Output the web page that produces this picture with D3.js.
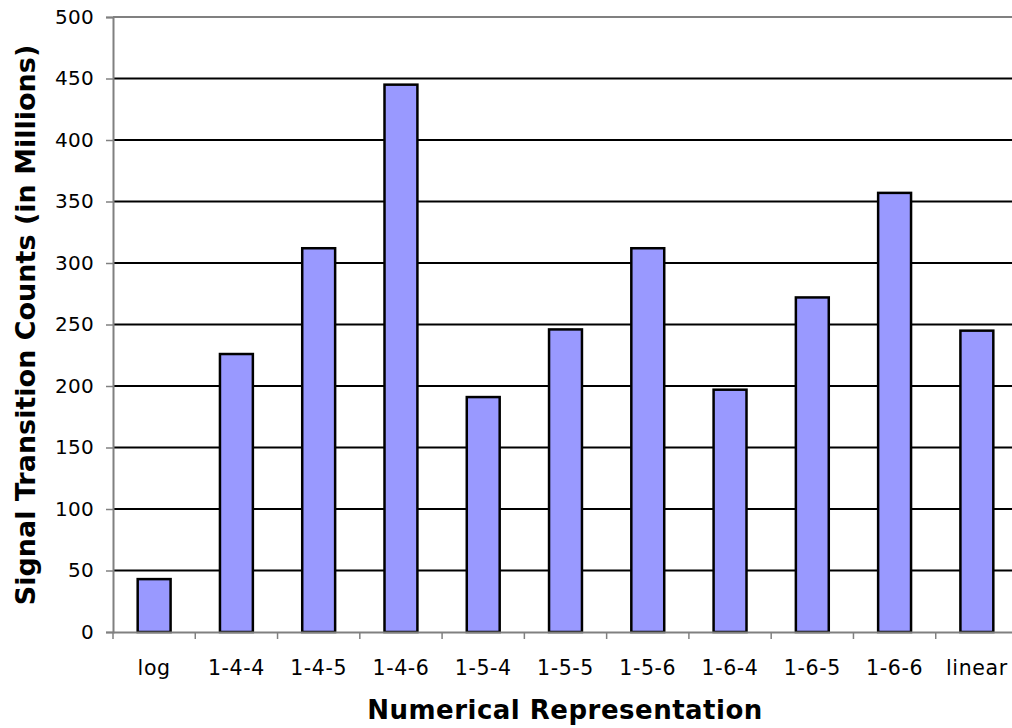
<!DOCTYPE html>
<html>
<head>
<meta charset="utf-8">
<script src="https://cdn.jsdelivr.net/npm/d3@7"></script>
<style>
  html, body { margin: 0; padding: 0; background: #fff; }
  svg { display: block; }
  text { font-family: "DejaVu Sans", Verdana, sans-serif; fill: #000; }
</style>
</head>
<body>
<svg id="chart" width="1012" height="728"></svg>
<script>
// Signal transition counts per numerical representation (millions)
const categories = ["log", "1-4-4", "1-4-5", "1-4-6", "1-5-4", "1-5-5", "1-5-6", "1-6-4", "1-6-5", "1-6-6", "linear"];
const counts = [43, 226, 312, 445, 191, 246, 312, 197, 272, 357, 245];
const yTicks = [0, 50, 100, 150, 200, 250, 300, 350, 400, 450, 500];

const svg = d3.select("#chart");
const plotLeft = 113, plotTop = 17, plotBottom = 632, plotRight = 1018;

const x = d3.scaleBand().domain(categories).range([plotLeft, plotRight]).paddingInner(0).paddingOuter(0);
const y = d3.scaleLinear().domain([0, 500]).range([plotBottom, plotTop]);

// Horizontal gridlines
svg.append("g")
  .selectAll("line")
  .data(yTicks.filter(d => d > 0 && d < 500))
  .join("line")
  .attr("x1", plotLeft).attr("x2", plotRight)
  .attr("y1", d => y(d)).attr("y2", d => y(d))
  .attr("stroke", "#000").attr("stroke-width", 2);

// Top border of plot area
svg.append("line")
  .attr("x1", plotLeft).attr("x2", plotRight)
  .attr("y1", y(500)).attr("y2", y(500))
  .attr("stroke", "#808080").attr("stroke-width", 2);

// Bars
const barW = x.bandwidth() * 0.4;
svg.append("g")
  .selectAll("rect")
  .data(categories.map((c, i) => ({ c, v: counts[i] })))
  .join("rect")
  .attr("x", d => x(d.c) + (x.bandwidth() - barW) / 2)
  .attr("width", barW)
  .attr("y", d => y(d.v))
  .attr("height", d => y(0) - y(d.v))
  .attr("fill", "#9999ff")
  .attr("stroke", "#000")
  .attr("stroke-width", 2.5);

// Y axis
const yAxis = svg.append("g")
  .attr("transform", `translate(${plotLeft},0)`)
  .call(d3.axisLeft(y).tickValues(yTicks).tickSize(7).tickPadding(12));
yAxis.select(".domain").attr("stroke", "#808080").attr("stroke-width", 2);
yAxis.selectAll(".tick line").attr("stroke", "#808080").attr("stroke-width", 1.5);
yAxis.selectAll(".tick text")
  .style("font-size", "20px")
  .style("letter-spacing", "0.3px")
  .style("font-family", "DejaVu Sans, sans-serif");

// X axis with ticks at category boundaries
const xAxis = svg.append("g")
  .attr("transform", `translate(0,${plotBottom})`)
  .call(d3.axisBottom(x).tickSize(0).tickPadding(28));
xAxis.select(".domain").attr("stroke", "#808080").attr("stroke-width", 2);
xAxis.selectAll(".tick text")
  .style("font-size", "20.5px")
  .style("letter-spacing", "0.6px")
  .style("font-family", "DejaVu Sans, sans-serif");
svg.append("g")
  .selectAll("line")
  .data(categories)
  .join("line")
  .attr("x1", d => x(d)).attr("x2", d => x(d))
  .attr("y1", plotBottom).attr("y2", plotBottom + 7)
  .attr("stroke", "#808080").attr("stroke-width", 1.5);

// Axis titles
svg.append("text")
  .attr("x", 565).attr("y", 719)
  .attr("text-anchor", "middle")
  .style("font-size", "26px").style("font-weight", "bold")
  .style("letter-spacing", "0.5px")
  .text("Numerical Representation");

svg.append("text")
  .attr("transform", `translate(35,325) rotate(-90)`)
  .attr("text-anchor", "middle")
  .style("font-size", "27px").style("font-weight", "bold")
  .text("Signal Transition Counts (in Millions)");
</script>
</body>
</html>
